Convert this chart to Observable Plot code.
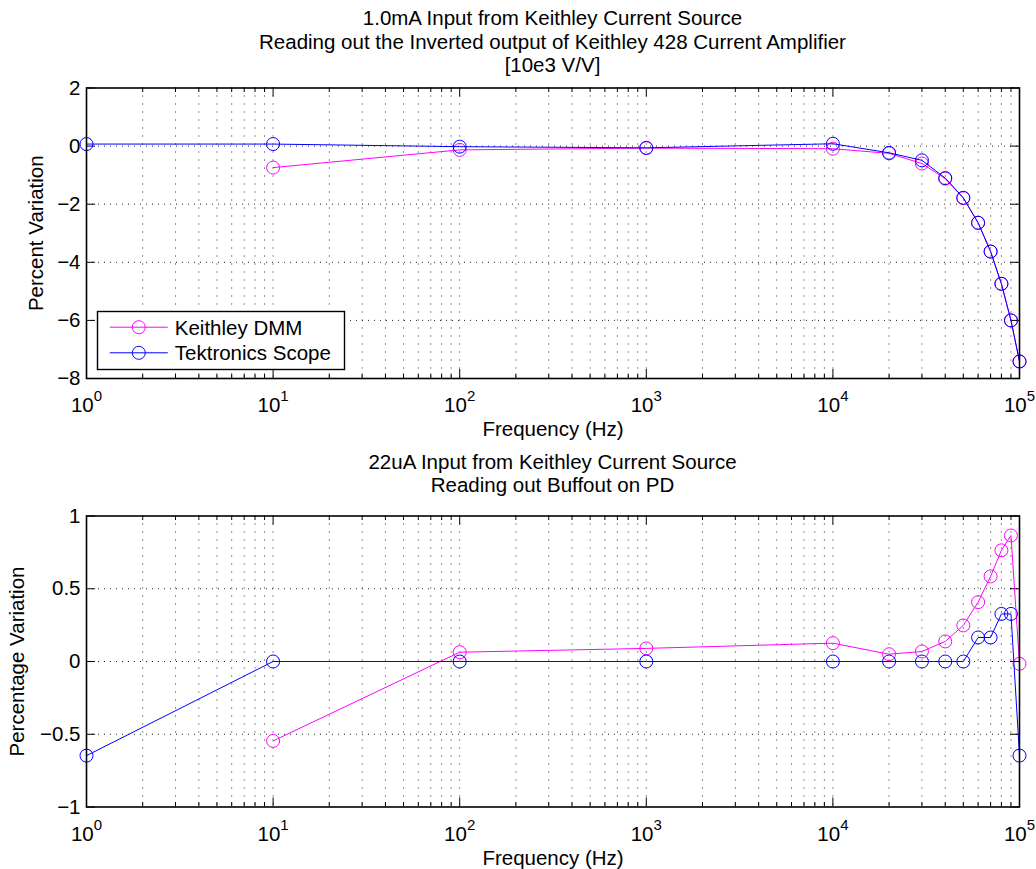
<!DOCTYPE html>
<html>
<head>
<meta charset="utf-8">
<script src="https://cdn.jsdelivr.net/npm/d3@7"></script>
<script src="https://cdn.jsdelivr.net/npm/@observablehq/plot@0.6"></script>
<style>
  html, body { margin: 0; padding: 0; background: #fff; }
  #wrap { position: relative; width: 1036px; height: 869px; font-family: "Liberation Sans", Arial, Helvetica, sans-serif; color: #000; }
  .title { position: absolute; left: 86px; width: 933px; text-align: center; font-size: 20.5px; white-space: nowrap; }
  .plot { position: absolute; left: 0; }
</style>
</head>
<body>
<div id="wrap">
  <div class="title" style="top:6.3px; line-height:23.2px;">1.0mA Input from Keithley Current Source<br>Reading out the Inverted output of Keithley 428 Current Amplifier<br>[10e3 V/V]</div>
  <div id="p1" class="plot" style="top:80px;"></div>
  <div class="title" style="top:451.3px; line-height:22.7px;">22uA Input from Keithley Current Source<br>Reading out Buffout on PD</div>
  <div id="p2" class="plot" style="top:505px;"></div>
  <svg id="legend" style="position:absolute;left:96.5px;top:310.5px;overflow:visible" width="248" height="59"></svg>
</div>
<script>
// ---------- data ----------
const freq = [1, 10, 100, 1000, 10000, 20000, 30000, 40000, 50000, 60000, 70000, 80000, 90000, 100000];

// Top panel: 1.0mA input, inverted output of Keithley 428 (percent variation)
const topDMM   = [null, -0.74, -0.13, -0.07, -0.09, -0.25, -0.60, -1.12, -1.79, -2.64, -3.63, -4.74, -6.00, -7.42];
const topScope = [0.07,  0.07, -0.02, -0.06,  0.08, -0.23, -0.49, -1.10, -1.78, -2.64, -3.63, -4.74, -6.00, -7.41];

// Bottom panel: 22uA input, Buffout on PD (percentage variation)
const botDMM   = [null, -0.546, 0.064, 0.09, 0.126, 0.05, 0.069, 0.138, 0.248, 0.408, 0.585, 0.764, 0.866, -0.016];
const botScope = [-0.647, 0, 0, 0, 0, 0, 0, 0, 0, 0.165, 0.165, 0.327, 0.327, -0.647];

const seriesNames = ["Keithley DMM", "Tektronics Scope"];
const seriesColors = ["#ff00ff", "#0000ff"];

const xMajor = [1, 10, 100, 1000, 10000, 100000];
const xMinor = [1, 10, 100, 1000, 10000].flatMap(d => [2, 3, 4, 5, 6, 7, 8, 9].map(k => k * d));
const topYTicks = [-8, -6, -4, -2, 0, 2];
const botYTicks = [-1, -0.5, 0, 0.5, 1];

// ---------- helpers ----------
const FONT = "Liberation Sans, Arial, Helvetica, sans-serif";
const FS = 20.5;
const W = 1036, ML = 86, MR = 17;
const PW = W - ML - MR;

function fmtY(d) { return (d < 0 ? "\u2212" : "") + Math.abs(d); }

function makePanel({rows, yDomain, yTicks, yLabel, yLabelDx, height, marginTop, marginBottom}) {
  const PH = height - marginTop - marginBottom;
  const grid = {stroke: "#000", strokeWidth: 1, strokeOpacity: 0.85};
  const innerX = xMajor.slice(1, -1).concat(xMinor);
  const innerY = yTicks.slice(1, -1);
  const long = 9, short = 4.5;
  const dmm = rows.filter(r => r.dmm != null);
  return Plot.plot({
    width: W, height, marginLeft: ML, marginRight: MR, marginTop, marginBottom,
    style: {fontFamily: FONT, fontSize: FS + "px", background: "transparent", overflow: "visible"},
    x: {type: "log", domain: [1, 100000]},
    y: {domain: yDomain},
    marks: [
      // dotted grid
      Plot.ruleX(innerX, {x: d => d, ...grid, strokeDasharray: "1,7"}),
      Plot.ruleY(innerY, {y: d => d, ...grid, strokeDasharray: "1,5"}),
      // inside ticks (bottom/top, left/right)
      Plot.ruleX(xMajor, {x: d => d, insetTop: PH - long, stroke: "#000"}),
      Plot.ruleX(xMajor, {x: d => d, insetBottom: PH - long, stroke: "#000"}),
      Plot.ruleX(xMinor, {x: d => d, insetTop: PH - short, stroke: "#000"}),
      Plot.ruleX(xMinor, {x: d => d, insetBottom: PH - short, stroke: "#000"}),
      Plot.ruleY(yTicks, {y: d => d, insetRight: PW - long, stroke: "#000"}),
      Plot.ruleY(yTicks, {y: d => d, insetLeft: PW - long, stroke: "#000"}),
      // tick labels
      Plot.axisX({ticks: xMajor, tickSize: 0, tickPadding: 19, fontSize: FS,
                  tickFormat: d => "10^" + Math.round(Math.log10(d)), label: null}),
      Plot.axisY({ticks: yTicks, tickSize: 0, tickPadding: 6, fontSize: FS, tickFormat: fmtY, label: null}),
      // axis titles
      Plot.text(["Frequency (Hz)"], {frameAnchor: "bottom", dy: 51.4, lineAnchor: "middle", textAnchor: "middle", fontSize: FS}),
      Plot.text([yLabel], {frameAnchor: "left", dx: yLabelDx, rotate: -90, lineAnchor: "middle", textAnchor: "middle", fontSize: FS}),
      // series
      Plot.line(dmm, {x: "f", y: "dmm", stroke: seriesColors[0], strokeWidth: 1}),
      Plot.dot(dmm, {x: "f", y: "dmm", r: 6.5, stroke: seriesColors[0], strokeWidth: 1, fill: "none"}),
      Plot.line(rows, {x: "f", y: "scope", stroke: seriesColors[1], strokeWidth: 1}),
      Plot.dot(rows, {x: "f", y: "scope", r: 6.5, stroke: seriesColors[1], strokeWidth: 1, fill: "none"}),
      Plot.frame({stroke: "#000", strokeWidth: 1.6})
    ]
  });
}

function superscripts(svg) {
  const ns = "http://www.w3.org/2000/svg";
  svg.querySelectorAll("text").forEach(t => {
    const s = t.textContent;
    if (!s.startsWith("10^")) return;
    const e = s.slice(3);
    t.textContent = "";
    const a = document.createElementNS(ns, "tspan");
    a.textContent = "10";
    const b = document.createElementNS(ns, "tspan");
    b.setAttribute("dy", "-11");
    b.setAttribute("font-size", "15");
    b.textContent = e;
    t.append(a, b);
  });
}

const topRows = freq.map((f, i) => ({f, dmm: topDMM[i], scope: topScope[i]}));
const botRows = freq.map((f, i) => ({f, dmm: botDMM[i], scope: botScope[i]}));

const p1 = makePanel({rows: topRows, yDomain: [-8, 2], yTicks: topYTicks, yLabel: "Percent Variation",
  yLabelDx: -50, height: 370, marginTop: 7.5, marginBottom: 72});
superscripts(p1);
document.getElementById("p1").append(p1);

const p2 = makePanel({rows: botRows, yDomain: [-1, 1], yTicks: botYTicks, yLabel: "Percentage Variation",
  yLabelDx: -69, height: 364, marginTop: 10.5, marginBottom: 62.5});
superscripts(p2);
document.getElementById("p2").append(p2);

// ---------- legend (inside top panel) ----------
(function () {
  const lg = d3.select("#legend");
  lg.append("rect").attr("x", 0.5).attr("y", 0.5).attr("width", 247).attr("height", 58)
    .attr("fill", "#fff").attr("stroke", "#000").attr("stroke-width", 1.4);
  const rowsY = [16.2, 41.8];
  seriesNames.forEach((name, i) => {
    const y = rowsY[i];
    lg.append("line").attr("x1", 12.8).attr("x2", 70.8).attr("y1", y).attr("y2", y)
      .attr("stroke", seriesColors[i]).attr("stroke-width", 1);
    lg.append("circle").attr("cx", 41.8).attr("cy", y).attr("r", 6.5)
      .attr("fill", "none").attr("stroke", seriesColors[i]).attr("stroke-width", 1);
    lg.append("text").attr("x", 77.8).attr("y", y + 7.4)
      .attr("font-family", FONT).attr("font-size", FS).attr("fill", "#000").text(name);
  });
})();
</script>
</body>
</html>
